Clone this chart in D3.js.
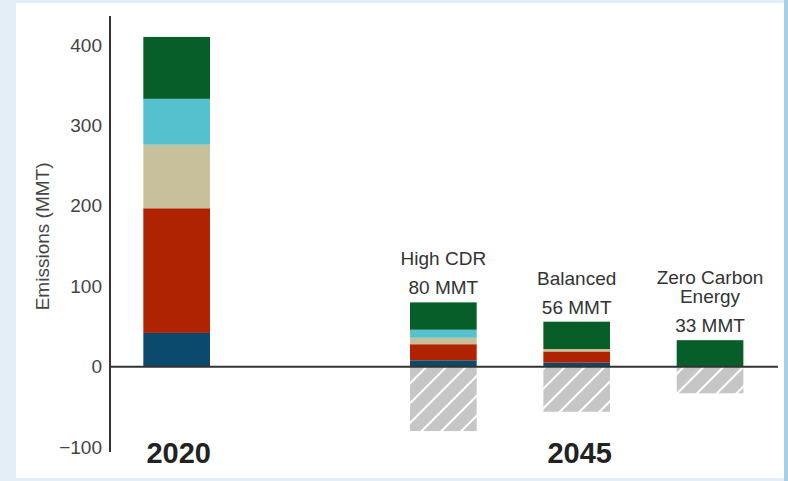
<!DOCTYPE html>
<html>
<head>
<meta charset="utf-8">
<script src="https://cdn.jsdelivr.net/npm/d3@7"></script>
<style>
  html, body { margin: 0; padding: 0; background: #e4eef7; }
  svg { display: block; font-family: "Liberation Sans", Arial, Helvetica, sans-serif; }
</style>
</head>
<body>
<div id="plot"></div>
<script>
// scenario columns (the "" slot is the empty gap between 2020 and 2045)
const slots = ["2020", "", "High CDR", "Balanced", "Zero Carbon Energy"];
const scenarios = ["2020", "High CDR", "Balanced", "Zero Carbon Energy"];
const nameLines = [[], ["High CDR"], ["Balanced"], ["Zero Carbon", "Energy"]];

// emissions by sector, bottom to top (MMT)
const sectors = ["blue", "red", "beige", "cyan", "green"];
const blueVals  = [42, 8, 5, 0];
const redVals   = [155, 20, 14, 0];
const beigeVals = [79, 8, 3, 0];
const cyanVals  = [57, 10, 0, 0];
const greenVals = [77, 34, 34, 33];
const removals  = [0, -80, -56, -33];

const yTicks = [-100, 0, 100, 200, 300, 400];
const sectorColors = ["#0b4a6c", "#b02300", "#c8c09b", "#55c1cf", "#075e28"];

const width = 788, height = 481;
const svg = d3.select("#plot").append("svg")
  .attr("width", width)
  .attr("height", height);

// white card
svg.append("rect").attr("x", 16).attr("y", 3).attr("width", 768).attr("height", 475).attr("fill", "#ffffff");
svg.append("rect").attr("x", 784).attr("y", 0).attr("width", 4).attr("height", height).attr("fill", "#a9cfe4");

// hatch pattern for removals
const defs = svg.append("defs");
const pat = defs.append("pattern")
  .attr("id", "hatch")
  .attr("patternUnits", "userSpaceOnUse")
  .attr("width", 14).attr("height", 14)
  .attr("patternTransform", "rotate(45)");
pat.append("rect").attr("width", 14).attr("height", 14).attr("fill", "#c6c6c6");
pat.append("line").attr("x1", 1).attr("y1", 0).attr("x2", 1).attr("y2", 14)
  .attr("stroke", "#ffffff").attr("stroke-width", 2);

const x = d3.scaleBand().domain(slots).range([110, 776.7]).padding(0);
const y = d3.scaleLinear().domain([-106, 436]).range([452, 16]);
const barW = x.bandwidth() * 0.5;

const table = scenarios.map((s, i) => ({
  scenario: s,
  blue: blueVals[i], red: redVals[i], beige: beigeVals[i], cyan: cyanVals[i], green: greenVals[i],
  removal: removals[i]
}));
const stacked = d3.stack().keys(sectors)(table);
const color = d3.scaleOrdinal().domain(sectors).range(sectorColors);

const bx = s => x(s) + (x.bandwidth() - barW) / 2;

// removals (hatched, below zero)
svg.append("g").selectAll("rect")
  .data(table.filter(d => d.removal < 0))
  .join("rect")
  .attr("x", d => bx(d.scenario))
  .attr("width", barW)
  .attr("y", y(0))
  .attr("height", d => y(d.removal) - y(0))
  .attr("fill", "url(#hatch)");

// stacked emissions
svg.append("g").selectAll("g")
  .data(stacked)
  .join("g")
  .attr("fill", d => color(d.key))
  .selectAll("rect")
  .data(d => d)
  .join("rect")
  .attr("x", d => bx(d.data.scenario))
  .attr("width", barW)
  .attr("y", d => y(d[1]))
  .attr("height", d => y(d[0]) - y(d[1]));

// y axis
const yAxis = svg.append("g")
  .attr("transform", "translate(110,0)")
  .call(d3.axisLeft(y).tickValues(yTicks).tickSize(0).tickPadding(8));
yAxis.select(".domain").remove();
yAxis.selectAll("text").attr("font-size", 19).attr("fill", "#444")
  .attr("font-family", "Liberation Sans, Arial, sans-serif");

svg.append("line").attr("x1", 110).attr("x2", 110).attr("y1", 16).attr("y2", 452)
  .attr("stroke", "#333").attr("stroke-width", 2);
svg.append("line").attr("x1", 110).attr("x2", 778).attr("y1", y(0)).attr("y2", y(0))
  .attr("stroke", "#333").attr("stroke-width", 2);

svg.append("text")
  .attr("transform", "translate(49," + y(162) + ") rotate(-90)")
  .attr("text-anchor", "middle")
  .attr("font-size", 19)
  .attr("fill", "#444")
  .text("Emissions (MMT)");

// scenario labels and totals
table.forEach((d, i) => {
  if (i === 0) return;
  const total = d.blue + d.red + d.beige + d.cyan + d.green;
  const cx = x(d.scenario) + x.bandwidth() / 2;
  const vb = y(total) - 8;
  svg.append("text").attr("x", cx).attr("y", vb)
    .attr("text-anchor", "middle").attr("font-size", 19).attr("fill", "#333")
    .text(total + " MMT");
  const lines = nameLines[i];
  lines.forEach((t, j) => {
    svg.append("text").attr("x", cx).attr("y", vb - 29 - (lines.length - 1 - j) * 19)
      .attr("text-anchor", "middle").attr("font-size", 19).attr("fill", "#333")
      .text(t);
  });
});

// year labels
svg.append("text").attr("x", x("2020") + x.bandwidth() / 2 + 2).attr("y", 463)
  .attr("text-anchor", "middle").attr("font-size", 29).attr("font-weight", "bold").attr("fill", "#222")
  .text("2020");
svg.append("text").attr("x", x("Balanced") + x.bandwidth() / 2 + 3).attr("y", 463)
  .attr("text-anchor", "middle").attr("font-size", 29).attr("font-weight", "bold").attr("fill", "#222")
  .text("2045");
</script>
</body>
</html>
